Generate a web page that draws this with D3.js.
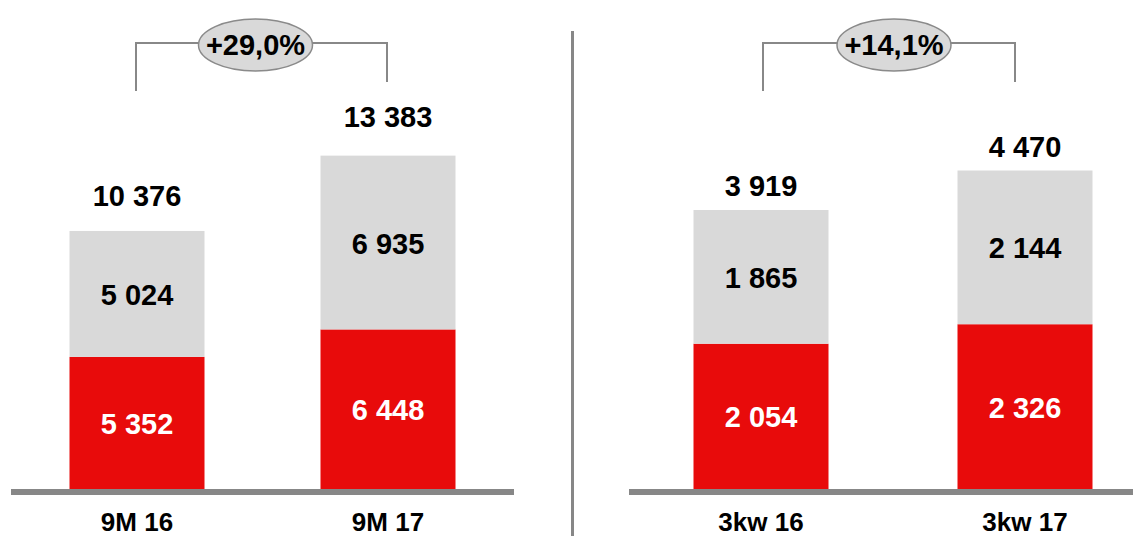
<!DOCTYPE html>
<html lang="en">
  <head>
    <meta charset="UTF-8" />
    <title>9M / 3kw comparison</title>
    <script src="https://d3js.org/d3.v7.min.js"></script>
    <style>
      html, body { margin: 0; padding: 0; background: #fff; }
      text { font-family: "Liberation Sans", Arial, sans-serif; font-weight: bold; }
    </style>
  </head>
  <body>
    <div id="chart"></div>
    <script>
      // data per panel
      const leftCategories = ['9M 16', '9M 17'];
      const leftRed = [5352, 6448];
      const leftGray = [5024, 6935];
      const leftTotals = [10376, 13383];
      const leftChange = '+29,0%';

      const rightCategories = ['3kw 16', '3kw 17'];
      const rightRed = [2054, 2326];
      const rightGray = [1865, 2144];
      const rightTotals = [3919, 4470];
      const rightChange = '+14,1%';

      const width = 1133;
      const height = 536;
      const base = 491;

      const fmt = (v) => d3.format(',')(v).replace(/,/g, ' ');

      const svg = d3
        .select('#chart')
        .append('svg')
        .attr('width', width)
        .attr('height', height);

      function panel(opts) {
        const x = d3.scalePoint().domain(opts.categories).range(opts.xRange);
        const y = d3.scaleLinear().domain([0, opts.yMax]).range([base, 0]);
        const g = svg.append('g');
        const bw = 135;

        opts.categories.forEach((c, i) => {
          const red = opts.red[i];
          const gray = opts.gray[i];
          // red segment
          g.append('rect')
            .attr('x', x(c) - bw / 2)
            .attr('width', bw)
            .attr('y', y(red))
            .attr('height', y(0) - y(red))
            .attr('fill', '#e80b0b');
          // gray segment
          g.append('rect')
            .attr('x', x(c) - bw / 2)
            .attr('width', bw)
            .attr('y', y(red + gray))
            .attr('height', y(red) - y(red + gray))
            .attr('fill', '#d9d9d9');

          g.append('text')
            .attr('x', x(c))
            .attr('y', (y(0) + y(red)) / 2 + 10)
            .attr('text-anchor', 'middle')
            .attr('font-size', 29)
            .attr('fill', '#fff')
            .text(fmt(red));
          g.append('text')
            .attr('x', x(c))
            .attr('y', (y(red) + y(red + gray)) / 2 + 11)
            .attr('text-anchor', 'middle')
            .attr('font-size', 29)
            .attr('fill', '#000')
            .text(fmt(gray));
          g.append('text')
            .attr('x', x(c))
            .attr('y', y(opts.totals[i]) - opts.totalGap[i])
            .attr('text-anchor', 'middle')
            .attr('font-size', 29)
            .attr('fill', '#000')
            .text(fmt(opts.totals[i]));
          g.append('text')
            .attr('x', x(c))
            .attr('y', 531)
            .attr('text-anchor', 'middle')
            .attr('font-size', 26)
            .attr('fill', '#000')
            .text(c);
        });

        // baseline
        g.append('rect')
          .attr('x', opts.lineRange[0])
          .attr('width', opts.lineRange[1] - opts.lineRange[0])
          .attr('y', 489)
          .attr('height', 6)
          .attr('fill', '#878787');

        // bracket with change bubble
        const [bx1, bx2] = opts.bracket;
        g.append('path')
          .attr('d', `M${bx1},91V43H${bx2}V82`)
          .attr('fill', 'none')
          .attr('stroke', '#888')
          .attr('stroke-width', 2);
        g.append('ellipse')
          .attr('cx', opts.bubbleX)
          .attr('cy', 45)
          .attr('rx', 57)
          .attr('ry', 26)
          .attr('fill', '#d9d9d9')
          .attr('stroke', '#8a8a8a')
          .attr('stroke-width', 1.5);
        g.append('text')
          .attr('x', opts.bubbleX)
          .attr('y', 55)
          .attr('text-anchor', 'middle')
          .attr('font-size', 29)
          .attr('fill', '#000')
          .text(opts.change);
      }

      panel({
        categories: leftCategories,
        red: leftRed,
        gray: leftGray,
        totals: leftTotals,
        change: leftChange,
        xRange: [137, 388],
        lineRange: [11, 514],
        yMax: 19593,
        totalGap: [25, 29],
        bracket: [136, 387],
        bubbleX: 255.5
      });

      panel({
        categories: rightCategories,
        red: rightRed,
        gray: rightGray,
        totals: rightTotals,
        change: rightChange,
        xRange: [761, 1025],
        lineRange: [629, 1133],
        yMax: 6848,
        totalGap: [14, 14],
        bracket: [763, 1015],
        bubbleX: 894
      });

      // divider
      svg
        .append('line')
        .attr('x1', 572.5)
        .attr('x2', 572.5)
        .attr('y1', 31)
        .attr('y2', height)
        .attr('stroke', '#878787')
        .attr('stroke-width', 3);
    </script>
  </body>
</html>
